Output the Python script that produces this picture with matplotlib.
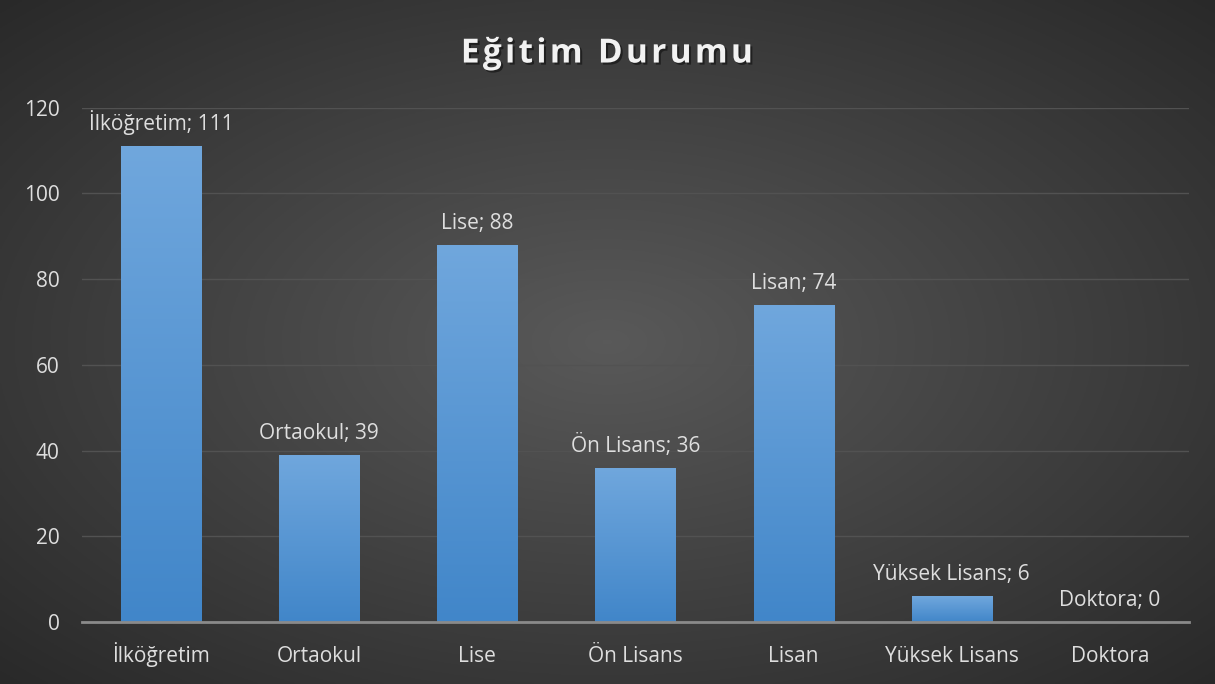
import numpy as np
import matplotlib
matplotlib.use("Agg")
import matplotlib.pyplot as plt
import matplotlib.patheffects as pe

categories = ["İlköğretim", "Ortaokul", "Lise", "Ön Lisans", "Lisan", "Yüksek Lisans", "Doktora"]
values = [111, 39, 88, 36, 74, 6, 0]
y_ticks = [0, 20, 40, 60, 80, 100, 120]
title = "Eğitim Durumu"

plt.rcParams["font.family"] = ["Open Sans", "DejaVu Sans"]
text_color = "#dedede"

fig = plt.figure(figsize=(12.15, 6.84), dpi=100)

# radial gradient background
bg = fig.add_axes([0, 0, 1, 1], zorder=0)
yy, xx = np.mgrid[0:1:300j, 0:1:500j]
r = np.sqrt(((xx - 0.5) / 0.75) ** 2 + ((yy - 0.5) / 0.75) ** 2)
shade = 0.35 - 0.2 * np.clip(r, 0, 1)
bg.imshow(np.dstack([shade] * 3), extent=[0, 1, 0, 1], aspect="auto", origin="lower")
bg.set_axis_off()

ax = fig.add_axes([0.0675, 0.0906, 0.9111, 0.752], zorder=1)
ax.patch.set_alpha(0)

x = np.arange(len(categories))
bars = ax.bar(x, values, width=0.506, color="#5b9bd5", zorder=2)

# vertical gradient on bars
grad = np.linspace(0, 1, 256).reshape(-1, 1)
top_c = np.array([0x70, 0xa7, 0xdd]) / 255
bot_c = np.array([0x41, 0x86, 0xc9]) / 255
grad_img = bot_c + (top_c - bot_c) * grad[:, :, None] * np.ones((1, 1, 3))
for b in bars:
    if b.get_height() <= 0:
        continue
    im = ax.imshow(grad_img, extent=[b.get_x(), b.get_x() + b.get_width(), 0, b.get_height()],
                   origin="lower", aspect="auto", zorder=2.5)
    im.set_clip_path(b)

for xi, v, c in zip(x, values, categories):
    ax.annotate(f"{c}; {v}", (xi, v), xytext=(0, 8), textcoords="offset points",
                ha="center", va="bottom", color=text_color, fontsize=15, zorder=4)

ax.set_xlim(-0.5, len(categories) - 0.5)
ax.set_ylim(0, 120)
ax.set_yticks(y_ticks)
ax.set_xticks(x)
ax.set_xticklabels(categories)
ax.tick_params(axis="both", length=0, colors=text_color, labelsize=15)
ax.tick_params(axis="x", pad=29)
ax.tick_params(axis="y", pad=16)
for lbl in ax.get_xticklabels():
    lbl.set_va("baseline")
ax.grid(axis="y", color="#525252", linewidth=1, zorder=1)
ax.set_axisbelow(True)
for s in ["top", "right", "left"]:
    ax.spines[s].set_visible(False)
ax.spines["bottom"].set_color("#8a8a8a")
ax.spines["bottom"].set_linewidth(2)
ax.spines["bottom"].set_zorder(3)

# spaced-out title like the original
spaced = "\u200a".join(title)
fig.text(0.5, 0.921, spaced, ha="center", va="center", color="#f2f2f2",
         fontsize=24, fontweight="bold",
         path_effects=[pe.withSimplePatchShadow(offset=(1.5, -1.5), shadow_rgbFace="black", alpha=0.45)])

fig.savefig("out.png", dpi=100)
